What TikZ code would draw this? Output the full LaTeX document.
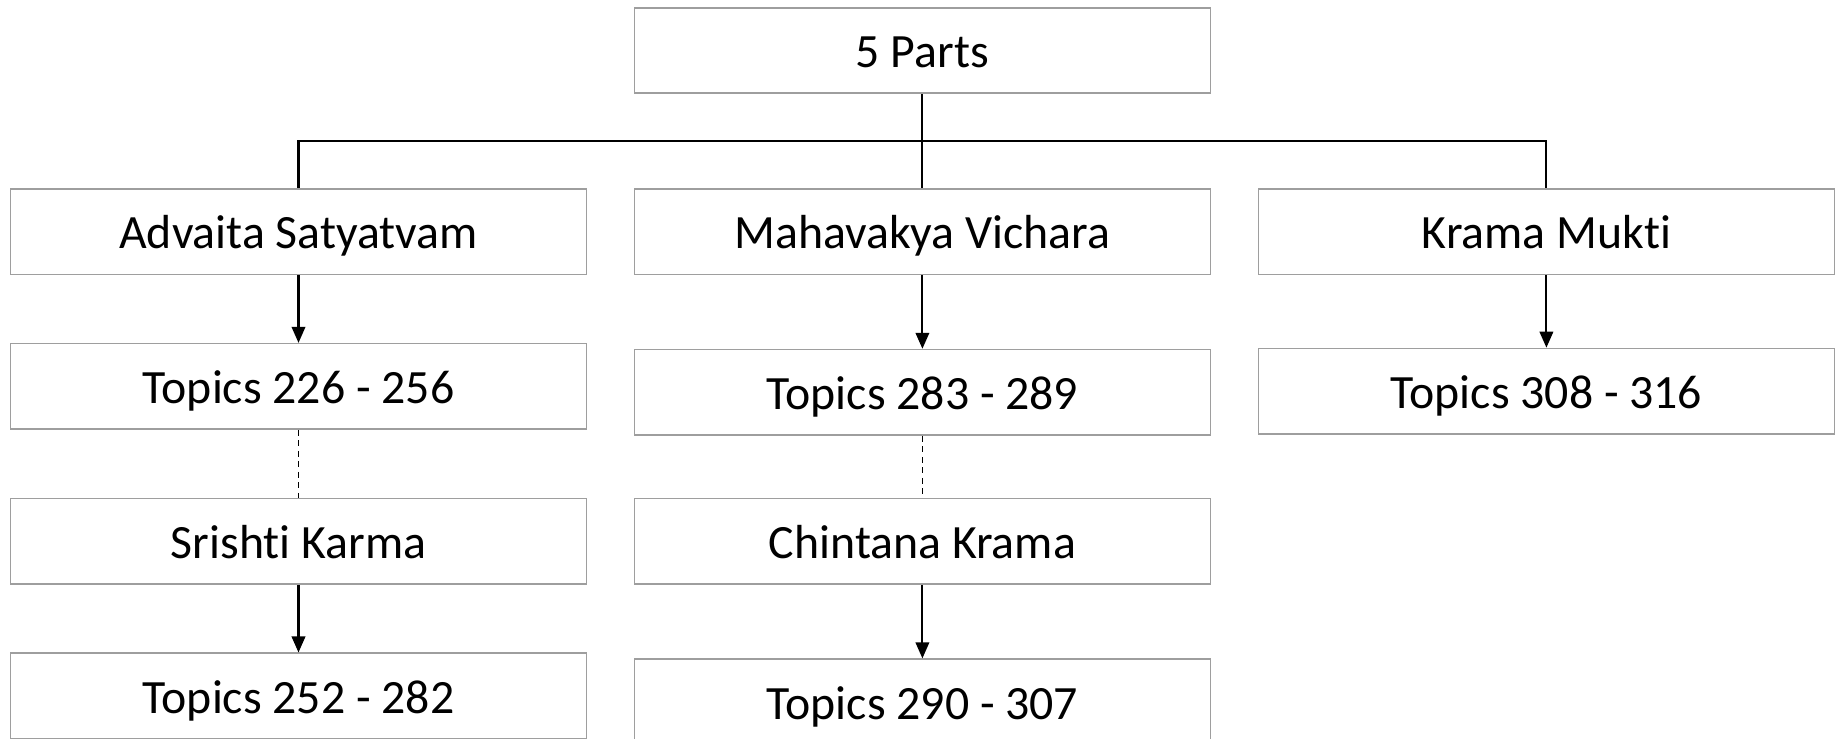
\documentclass[tikz,border=0pt]{standalone}
\usepackage{fontspec}
\setmainfont{Carlito}[RawFeature={-liga;-clig;-calt;-dlig}]
\usepackage{tikz}
\usetikzlibrary{arrows.meta}
\usepackage{xcolor}

\tikzset{part/.style={draw=black!38,line width=0.45pt,rectangle,minimum width=5.76cm,minimum height=0.855cm,inner sep=0pt,text height=0.345cm,text depth=0cm,font=\fontsize{13.6}{16}\selectfont},
link/.style={line width=0.6pt,-{Triangle[length=1.6mm,width=1.35mm]}}}

\begin{document}
\begin{tikzpicture}
\clip (0,0) rectangle (18.39,-7.38);

\node[part] (parts) at (9.224,-0.505) {5 Parts};


\node[part] (advaita) at (2.985,-2.316) {Advaita Satyatvam};

\node[part] (mahavakya) at (9.224,-2.316) {Mahavakya Vichara};

\node[part] (krama) at (15.464,-2.316) {Krama Mukti};


\node[part] (topicsA) at (2.985,-3.864) {Topics 226 - 256};

\node[part] (topicsB) at (9.224,-3.923) {Topics 283 - 289};

\node[part] (topicsC) at (15.464,-3.912) {Topics 308 - 316};


\node[part] (srishti) at (2.985,-5.412) {Srishti Karma};

\node[part] (chintana) at (9.224,-5.412) {Chintana Krama};


\node[part] (topicsD) at (2.985,-6.960) {Topics 252 - 282};

\node[part] (topicsE) at (9.224,-7.019) {Topics 290 - 307};

%\draw[red] (0,0) rectangle (18.39,-7.38);

\coordinate (bus) at (9.224,-1.407);

\draw[line width=0.6pt] (parts) -- (bus);
\draw[line width=0.6pt] (bus) -| (advaita);
\draw[line width=0.6pt] (bus) -| (krama);
\draw[line width=0.6pt] (bus) -- (mahavakya);

\draw[link] (advaita) -- (topicsA);
\draw[link] (mahavakya) -- (topicsB);
\draw[link] (krama) -- (topicsC);

\draw[line width=0.45pt,dash pattern=on 0.6mm off 0.45mm] (topicsA) -- (srishti);
\draw[line width=0.45pt,dash pattern=on 0.6mm off 0.45mm] (topicsB) -- (chintana);

\draw[link] (srishti) -- (topicsD);
\draw[link] (chintana) -- (topicsE);

\end{tikzpicture}
\end{document}
